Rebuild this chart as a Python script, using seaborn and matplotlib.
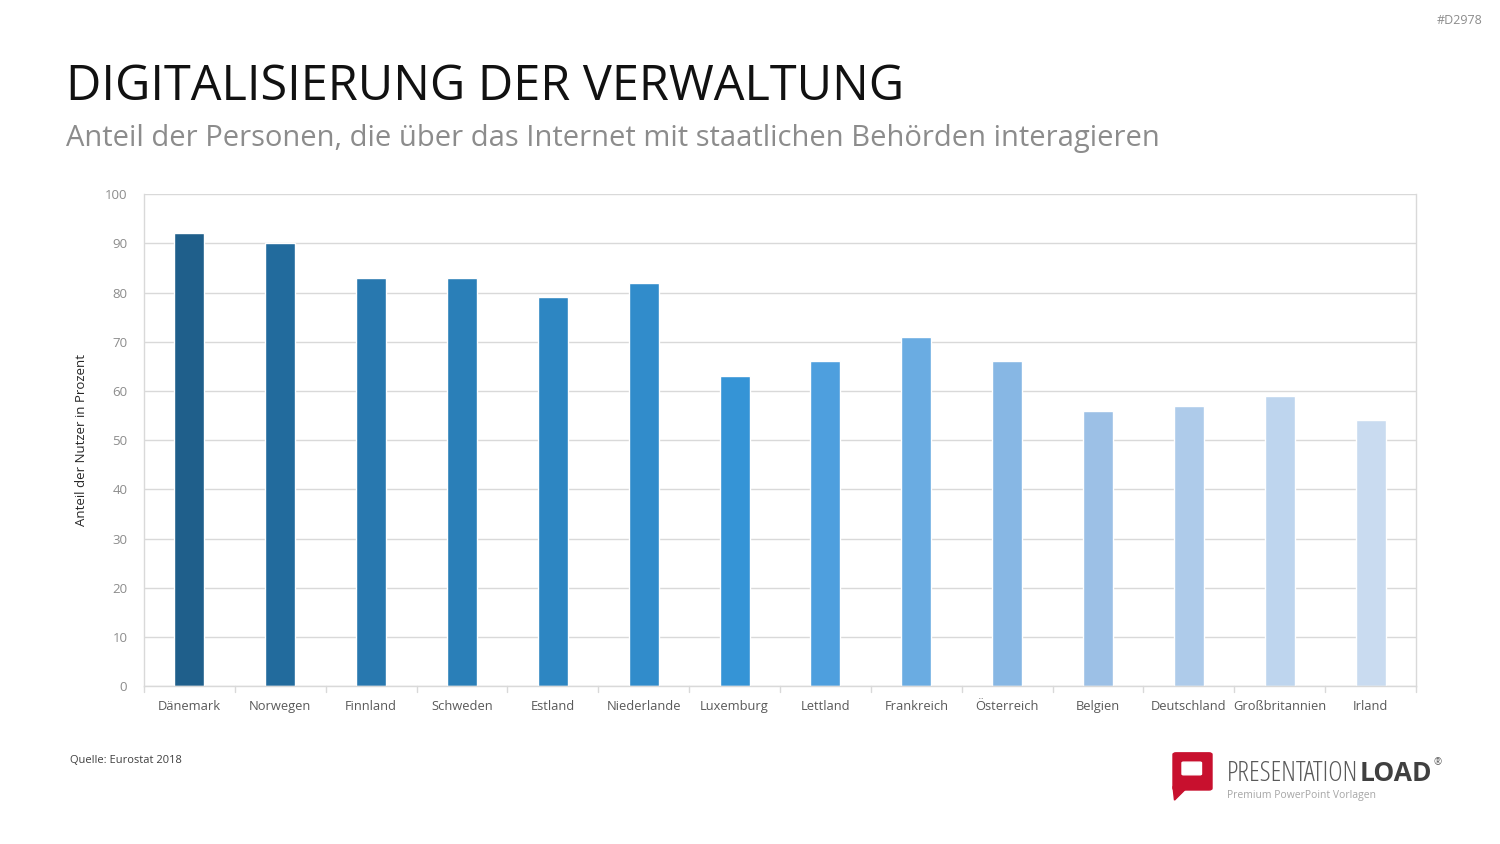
import numpy as np
import pandas as pd
import seaborn as sns
import matplotlib.pyplot as plt
from matplotlib.patches import FancyBboxPatch, Polygon

countries = ["Dänemark", "Norwegen", "Finnland", "Schweden", "Estland", "Niederlande",
             "Luxemburg", "Lettland", "Frankreich", "Österreich", "Belgien",
             "Deutschland", "Großbritannien", "Irland"]
shares = [92, 90, 83, 83, 79, 82, 63, 66, 71, 66, 56, 57, 59, 54]
bar_colors = ["#1F5F8B", "#226B9D", "#2878AF", "#2A7FB8", "#2D86C2", "#318CCB",
              "#3594D6", "#4E9FDE", "#6AACE2", "#87B7E4", "#9CC0E6", "#AECBEA",
              "#BED5EE", "#C9DBF0"]

title = "DIGITALISIERUNG DER VERWALTUNG"
subtitle = "Anteil der Personen, die über das Internet mit staatlichen Behörden interagieren"
ylabel = "Anteil der Nutzer in Prozent"
source = "Quelle: Eurostat 2018"

sns.set_style("white")
plt.rcParams['font.family'] = ['Open Sans', 'DejaVu Sans']

df = pd.DataFrame({"land": countries, "anteil": shares})

fig = plt.figure(figsize=(15, 8.44), dpi=100)
ax = fig.add_axes([0.096, 0.187, 0.848, 0.583])

sns.barplot(data=df, x="land", y="anteil", hue="land", palette=bar_colors,
            legend=False, width=0.33, ax=ax, saturation=1)

ax.set_ylim(0, 100)
ax.set_xlim(-0.5, len(countries) - 0.5)
ax.set_yticks(np.arange(0, 101, 10))
ax.yaxis.grid(True, color="#D9D9D9", linewidth=1)
ax.set_axisbelow(True)
for s in ["left", "right", "top", "bottom"]:
    ax.spines[s].set_color("#D9D9D9")
    ax.spines[s].set_linewidth(1)
ax.spines["top"].set_visible(False)

ax.tick_params(axis="y", length=0, labelsize=9.5, labelcolor="#8C8C8C", pad=12)
ax.tick_params(axis="x", length=0, labelsize=9.3, labelcolor="#595959", pad=10)
# category separators on the bottom axis
for b in np.arange(-0.5, len(countries), 1):
    ax.plot([b, b], [0, -1.2], color="#D9D9D9", lw=1, clip_on=False)

ax.set_xlabel("")
ax.set_ylabel(ylabel, fontsize=9.5, color="#262626", labelpad=12)

fig.text(0.044, 0.8815, title, fontsize=35, color="#111111", ha="left", va="baseline")
fig.text(0.044, 0.827, subtitle, fontsize=21, color="#8C8C8C", ha="left", va="baseline")
fig.text(0.047, 0.096, source, fontsize=8, color="#404040", ha="left", va="baseline")
fig.text(0.988, 0.972, "#D2978", fontsize=9, color="#8C8C8C", ha="right", va="baseline")

# logo
lx, ly = 0.784, 0.052
fig.patches.append(FancyBboxPatch((lx, ly + 0.014), 0.022, 0.04, boxstyle="round,pad=0.002",
                                  transform=fig.transFigure, color="#C8102E"))
fig.patches.append(Polygon([[lx - 0.002, ly + 0.016], [lx + 0.008, ly + 0.016], [lx - 0.001, ly]],
                           closed=True, transform=fig.transFigure, color="#C8102E"))
fig.patches.append(FancyBboxPatch((lx + 0.005, ly + 0.031), 0.011, 0.013, boxstyle="round,pad=0.001",
                                  transform=fig.transFigure, color="white"))
t1 = fig.text(0.818, 0.0745, "PRESENTATION", fontsize=20, color="#595959", ha="left",
              va="baseline", stretch="condensed")
fig.canvas.draw()
bb = t1.get_window_extent(fig.canvas.get_renderer())
t2 = fig.text(bb.x1 / fig.bbox.width + 0.001, 0.0745, "LOAD", fontsize=19, color="#404040",
              weight="bold", ha="left", va="baseline", stretch="condensed")
fig.canvas.draw()
bb2 = t2.get_window_extent(fig.canvas.get_renderer())
fig.text(bb2.x1 / fig.bbox.width + 0.001, 0.094, "®", fontsize=7, color="#595959",
         ha="left", va="baseline")
fig.text(0.818, 0.054, "Premium PowerPoint Vorlagen", fontsize=7.5, color="#A6A6A6",
         ha="left", va="baseline")

fig.savefig("out.png", dpi=100)
